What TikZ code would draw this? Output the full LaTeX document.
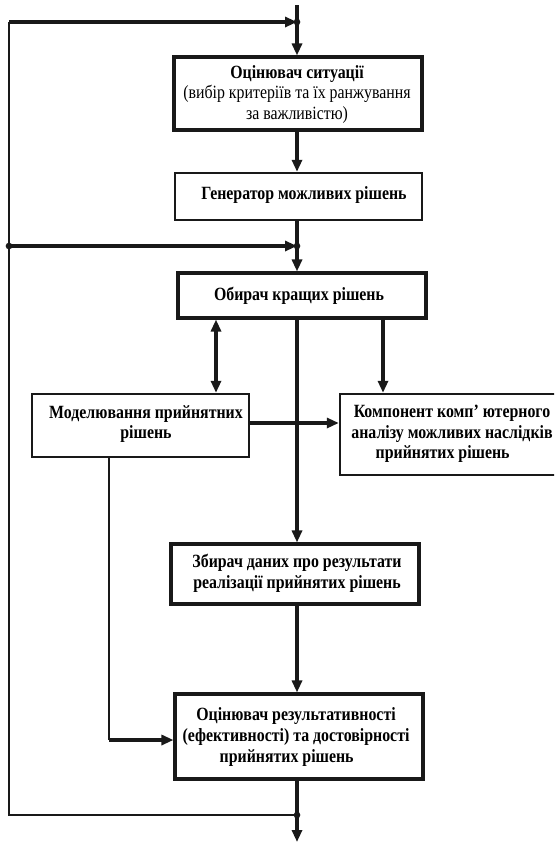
\documentclass[tikz,border=0pt]{standalone}
\usepackage{fontspec}
\setmainfont{Liberation Serif}[FakeStretch=0.85]
\usetikzlibrary{arrows.meta}
\begin{document}
\begin{tikzpicture}[x=0.75pt,y=-0.75pt,
  thickbox/.style={draw=black!90,line width=2.3pt,rectangle,inner sep=0pt},
  thinbox/.style={draw=black!90,line width=1.8pt,rectangle,inner sep=0pt},
  txt/.style={align=center,font=\fontsize{14}{15.5}\selectfont\bfseries,inner sep=0pt},
  arr/.style={draw=black!90,line width=2.4pt,-{Triangle[length=9pt,width=7.5pt]}},
  dblarr/.style={draw=black!90,line width=2.4pt,{Triangle[length=9pt,width=7.5pt]}-{Triangle[length=9pt,width=7.5pt]}},
  plain/.style={draw=black!90,line width=1.8pt},
  dot/.style={circle,fill=black!90,inner sep=0pt,minimum size=5pt}]
\useasboundingbox (0,0) rectangle (554,843);
\clip (0,0) rectangle (554,843);
% boxes
\node[thickbox,minimum width=186pt,minimum height=54.75pt] (b1) at (298,93.5) {};
\node[thinbox,minimum width=185.25pt,minimum height=35.25pt] (b2) at (298.5,196.5) {};
\node[thickbox,minimum width=186pt,minimum height=33.75pt] (b3) at (302,295.5) {};
\node[thinbox,minimum width=162.75pt,minimum height=47.25pt] (b5) at (140.5,425.5) {};
\node[thinbox,minimum width=172.5pt,minimum height=60.75pt] (b6) at (455,434.5) {};
\node[thickbox,minimum width=186pt,minimum height=45pt] (b4) at (295,574) {};
\node[thickbox,minimum width=186pt,minimum height=63.75pt] (b7) at (299,736.5) {};
% texts
\node[txt] (t1) at (297,94.5) {Оцінювач ситуації\\ \mdseries(вибір критеріїв та їх ранжування\\ \mdseries за важливістю)};
\node[txt] (t2) at (304,195) {Генератор можливих рішень};
\node[txt] (t3) at (299,296) {Обирач кращих рішень};
\node[txt] (t5) at (146,424) {Моделювання прийнятних\\рішень};
\node[txt] (t6) at (452,434) {Компонент комп' ютерного\\аналізу можливих наслідків\\прийнятих рішень\hspace*{14pt}};
\node[txt] (t4) at (297,573) {Збирач даних про результати\\реалізації прийнятих рішень};
\node[txt] (t7) at (296,737) {Оцінювач результативності\\(ефективності) та достовірності\\прийнятих рішень\hspace*{14pt}};
% coordinates
\coordinate (top) at (297,5);
\coordinate (j1) at (297,22);
\coordinate (j2) at (297,246);
\coordinate (lt) at (9,22);
\coordinate (lm) at (9,246);
\coordinate (fb) at (297,815);
\coordinate (lb) at (9,815);
\coordinate (bot) at (297,842);
\coordinate (dx) at (216,0);
\coordinate (rx) at (383,0);
\coordinate (mlx) at (109,0);
% main flow
\draw[arr] (top) -- (top |- b1.north);
\draw[arr] (top |- b1.south) -- (top |- b2.north);
\draw[arr] (top |- b2.south) -- (top |- b3.north);
\draw[arr] (top |- b3.south) -- (top |- b4.north);
\draw[arr] (top |- b4.south) -- (top |- b7.north);
\draw[arr] (top |- b7.south) -- (bot);
\draw[dblarr] (dx |- b3.south) -- (dx |- b5.north);
\draw[arr] (rx |- b3.south) -- (rx |- b6.north);
\draw[arr] (b5.east |- 0,423) -- (b6.west |- 0,423);
\draw[plain] (mlx |- b5.south) -- (mlx |- 0,740) coordinate (mc);
\draw[arr] (mc) -- (b7.west |- mc);
% feedback
\draw[plain] (fb) -- (lb) -- (lt);
\draw[arr] (lt) -- (j1);
\draw[arr] (lm) -- (j2);
\node[dot] (d1) at (j1) {};
\node[dot] (d2) at (j2) {};
\node[dot] (d3) at (lm) {};
\node[dot] (d4) at (fb) {};
\end{tikzpicture}
\end{document}
